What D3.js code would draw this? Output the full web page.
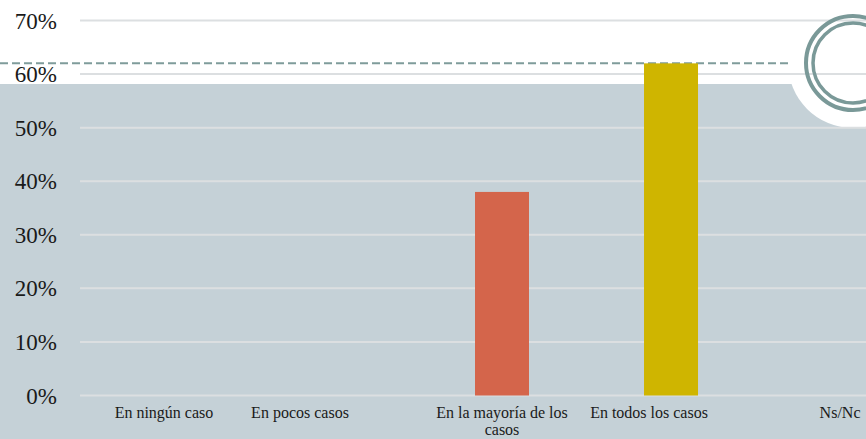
<!DOCTYPE html>
<html>
<head>
<meta charset="utf-8">
<script src="https://cdn.jsdelivr.net/npm/d3@7"></script>
<style>
  html, body { margin: 0; padding: 0; background: #ffffff; }
  svg { display: block; }
</style>
</head>
<body>
<svg id="chart" width="866" height="439"></svg>
<script>
const categories = ["En ningún caso", "En pocos casos", "En la mayoría de los casos", "En todos los casos", "Ns/Nc"];
const values = [0, 0, 38, 62, 0];
const barColors = ["#d4654b", "#d4654b", "#d4654b", "#cfb500", "#7f9c9b"];
const yTicks = [0, 10, 20, 30, 40, 50, 60, 70];
const referenceValue = 62;

const W = 866, H = 439;
const svg = d3.select("#chart");
const font = "'Liberation Serif', 'DejaVu Serif', serif";

const x = d3.scaleBand().domain(categories).range([79.5, 924.5]).paddingInner(0.6805).paddingOuter(0.34);
const y = d3.scaleLinear().domain([0, 70]).range([395.5, 20.5]);

// decorative background
const bgTop = 84, cx = 853, cy = 63;
svg.append("rect").attr("x", 0).attr("y", bgTop).attr("width", W).attr("height", H - bgTop).attr("fill", "#c5d1d7");
svg.append("circle").attr("cx", cx).attr("cy", cy).attr("r", 65).attr("fill", "#ffffff");

// gridlines
svg.append("g").selectAll("line").data(yTicks).join("line")
  .attr("x1", 80).attr("x2", W)
  .attr("y1", d => y(d)).attr("y2", d => y(d))
  .attr("stroke", "#dcdfe1").attr("stroke-width", 2);

// y labels
svg.append("g").selectAll("text").data(yTicks).join("text")
  .attr("x", 57).attr("y", d => y(d) + 8)
  .attr("text-anchor", "end")
  .attr("font-family", font).attr("font-size", 23).attr("fill", "#1a1a1a")
  .text(d => d + "%");

// dashed reference line
svg.append("line")
  .attr("x1", 0).attr("x2", 790)
  .attr("y1", y(referenceValue)).attr("y2", y(referenceValue))
  .attr("stroke", "#7f9c9b").attr("stroke-width", 2).attr("stroke-dasharray", "8,4");

// bars
svg.append("g").selectAll("rect").data(categories).join("rect")
  .attr("x", d => x(d))
  .attr("width", x.bandwidth())
  .attr("y", (d, i) => y(values[i]))
  .attr("height", (d, i) => y(0) - y(values[i]))
  .attr("fill", (d, i) => barColors[i]);

// rings
svg.append("circle").attr("cx", cx).attr("cy", cy).attr("r", 47).attr("fill", "none").attr("stroke", "#7a9998").attr("stroke-width", 4);
svg.append("circle").attr("cx", cx).attr("cy", cy).attr("r", 40).attr("fill", "none").attr("stroke", "#7a9998").attr("stroke-width", 3.5);

// x labels
const labelNudge = { "En pocos casos": -33, "En todos los casos": -22 };
const lines = c => c === "En la mayoría de los casos" ? ["En la mayoría de los", "casos"] : [c];
const xl = svg.append("g").selectAll("text").data(categories).join("text")
  .attr("text-anchor", "middle")
  .attr("font-family", font).attr("font-size", 16).attr("fill", "#1a1a1a")
  .attr("transform", d => `translate(${x(d) + x.bandwidth() / 2 + (labelNudge[d] || 0)},${y(0) + 22.5})`);
xl.selectAll("tspan").data(d => lines(d)).join("tspan")
  .attr("x", 0).attr("dy", (d, i) => i === 0 ? 0 : 17)
  .text(d => d);
</script>
</body>
</html>
